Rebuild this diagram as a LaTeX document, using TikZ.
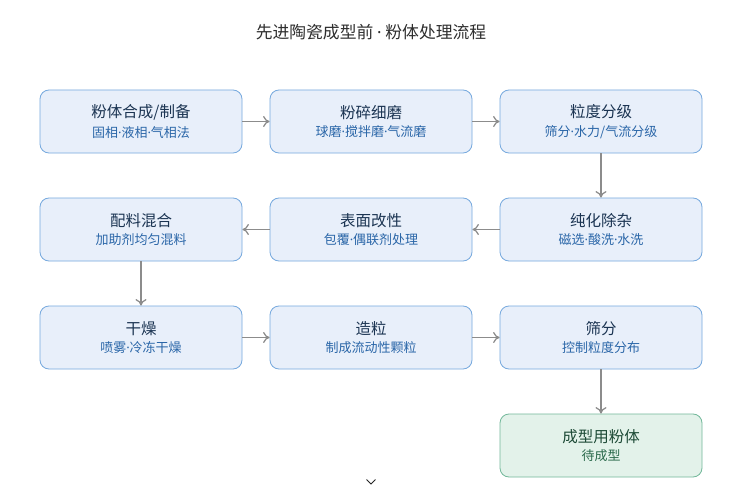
\documentclass[tikz,border=0pt]{standalone}
\usepackage{fontspec}
\setmainfont{Noto Sans CJK SC}
\newfontfamily\latf{Noto Sans}
\usetikzlibrary{arrows.meta}
\definecolor{boxfill}{HTML}{E8EFFA}
\definecolor{boxline}{HTML}{76A9DE}
\definecolor{boxtitle}{HTML}{1B3452}
\definecolor{boxsub}{HTML}{2A66A8}
\definecolor{gfill}{HTML}{E3F2EA}
\definecolor{gline}{HTML}{72B89A}
\definecolor{gtitle}{HTML}{1D4A36}
\definecolor{gsub}{HTML}{2B6A4C}
\definecolor{arrowc}{HTML}{8C8C8C}
\tikzset{
  x=1pt, y=-1pt,
  stepbox/.style={draw=boxline, fill=boxfill, line width=0.8pt, rounded corners=9pt,
    minimum width=202pt, minimum height=63pt, inner sep=0pt, align=center},
  donebox/.style={stepbox, draw=gline, fill=gfill},
  flow/.style={draw=arrowc, line width=1.2pt, -{To[length=6.5pt,width=11pt]}},
}
\newcommand{\dt}{{\latf ·}}
\newcommand{\bx}[2]{{\fontsize{15.5}{18}\selectfont\color{boxtitle}#1}\\[5pt]{\fontsize{13}{15}\selectfont\color{boxsub}#2}}
\newcommand{\gx}[2]{{\fontsize{15.5}{18}\selectfont\color{gtitle}#1}\\[5pt]{\fontsize{13}{15}\selectfont\color{gsub}#2}}
\begin{document}
\begin{tikzpicture}
\useasboundingbox (0,0) rectangle (750,495);
\fill[white] (0,0) rectangle (750,495);
\node[font=\fontsize{16.8}{19}\selectfont, text=black!82] (title) at (371,32) {先进陶瓷成型前 \dt{} 粉体处理流程};
\node[stepbox] (a) at (141,121.5) {\bx{粉体合成/制备}{固相\dt 液相\dt 气相法}};
\node[stepbox] (b) at (371,121.5) {\bx{粉碎细磨}{球磨\dt 搅拌磨\dt 气流磨}};
\node[stepbox] (c) at (601,121.5) {\bx{粒度分级}{筛分\dt 水力/气流分级}};
\node[stepbox] (d) at (601,229.5) {\bx{纯化除杂}{磁选\dt 酸洗\dt 水洗}};
\node[stepbox] (e) at (371,229.5) {\bx{表面改性}{包覆\dt 偶联剂处理}};
\node[stepbox] (f) at (141,229.5) {\bx{配料混合}{加助剂均匀混料}};
\node[stepbox] (g) at (141,337.5) {\bx{干燥}{喷雾\dt 冷冻干燥}};
\node[stepbox] (h) at (371,337.5) {\bx{造粒}{制成流动性颗粒}};
\node[stepbox] (i) at (601,337.5) {\bx{筛分}{控制粒度分布}};
\node[donebox] (j) at (601,445.5) {\gx{成型用粉体}{待成型}};
\draw[flow] (a) -- (b);
\draw[flow] (b) -- (c);
\draw[flow] (c) -- (d);
\draw[flow] (d) -- (e);
\draw[flow] (e) -- (f);
\draw[flow] (f) -- (g);
\draw[flow] (g) -- (h);
\draw[flow] (h) -- (i);
\draw[flow] (i) -- (j);
\coordinate (chev) at (371,482);
\draw[black!85, line width=1pt] ([xshift=-4.5pt,yshift=2.5pt]chev) -- ([yshift=-2pt]chev) -- ([xshift=4.5pt,yshift=2.5pt]chev);
\end{tikzpicture}
\end{document}
